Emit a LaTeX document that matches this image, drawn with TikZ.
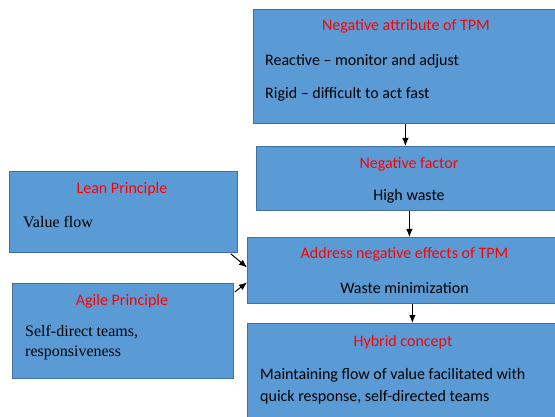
\documentclass[tikz,border=0pt]{standalone}
\usepackage{fontspec}
\setmainfont{Carlito}
\newfontfamily\timesfont{Liberation Serif}
\usetikzlibrary{arrows.meta}
\definecolor{boxblue}{HTML}{5B9BD5}
\definecolor{boxline}{HTML}{41719C}
\definecolor{titlered}{HTML}{FF0000}

\begin{document}
\begin{tikzpicture}[x=1pt,y=-1pt,
  box/.style={draw=boxline,fill=boxblue,line width=0.8pt,anchor=north west,inner sep=0pt},
  title/.style={text=titlered,inner sep=0pt,font=\fontsize{16}{19}\selectfont},
  body/.style={anchor=west,inner sep=0pt,align=left,font=\fontsize{16}{22}\selectfont},
  serbody/.style={anchor=west,inner sep=0pt,align=left,font=\timesfont\fontsize{16}{20}\selectfont},
  arr/.style={-{Latex[length=8pt,width=6.5pt]},line width=1pt}]

\useasboundingbox(0,0)rectangle(555,417);
\clip(0,0)rectangle(555,417);

% boxes
\node[box,minimum width=304,minimum height=114](neg)at(253,9){};
\node[box,minimum width=306,minimum height=64](fac)at(256,146){};
\node[box,minimum width=315,minimum height=66](addr)at(247,237){};
\node[box,minimum width=312,minimum height=110](hyb)at(247,323){};
\node[box,minimum width=228,minimum height=81](lean)at(9,171){};
\node[box,minimum width=221,minimum height=95](agile)at(12,283){};

% texts
\node[title](negT)at(406,26){Negative attribute of TPM};
\node[body](negA)at(265,61){Reactive -- monitor and adjust};
\node[body](negB)at(265,94){Rigid -- difficult to act fast};

\node[title](facT)at(409,164){Negative factor};
\node[title,text=black](facA)at(409,196){High waste};

\node[title](addrT)at(404.5,254){Address negative effects of TPM};
\node[title,text=black](addrA)at(404.5,288){Waste minimization};

\node[title](hybT)at(403,342){Hybrid concept};
\node[body](hybA)at(260,386){Maintaining flow of value facilitated with\\quick response, self-directed teams};

\node[title](leanT)at(122,189){Lean Principle};
\node[serbody](leanA)at(23,222){Value flow};

\node[title](agileT)at(122,301){Agile Principle};
\node[serbody](agileA)at(25,343){Self-direct teams,\\responsiveness};

% arrows
\draw[arr](neg.south)--(neg.south|-fac.north);
\draw[arr](fac.south)--(fac.south|-addr.north);
\draw[arr]([xshift=7.5pt]addr.south)--([xshift=7.5pt]addr.south|-hyb.north);
\draw[arr]([shift={(-7,1)}]lean.south east)--([yshift=3pt]addr.west);
\draw[arr]([shift={(1,9)}]agile.north east)--([yshift=-12pt]addr.west);
\end{tikzpicture}
\end{document}
